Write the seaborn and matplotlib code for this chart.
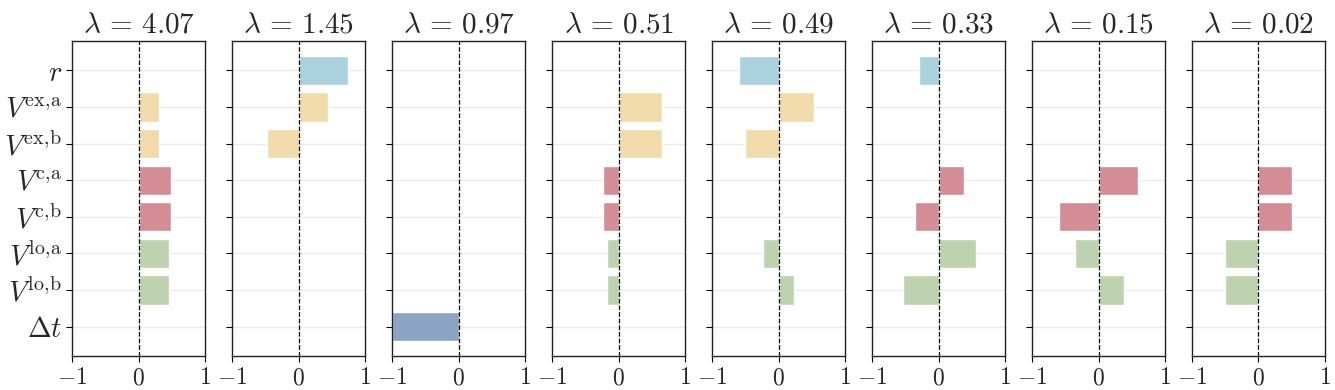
import numpy as np
import pandas as pd
import seaborn as sns
import matplotlib.pyplot as plt

# Data
lambdas = ['4.07', '1.45', '0.97', '0.51', '0.49', '0.33', '0.15', '0.02']
labels = [r'$r$', r'$V^{\mathrm{ex,\!a}}$', r'$V^{\mathrm{ex,\!b}}$', r'$V^{\mathrm{c,\!a}}$',
          r'$V^{\mathrm{c,\!b}}$', r'$V^{\mathrm{lo,\!a}}$', r'$V^{\mathrm{lo,\!b}}$', r'$\Delta t$']
# one list per eigenvector, same order as labels
vec_0 = [0.0, 0.30, 0.30, 0.48, 0.48, 0.45, 0.45, 0.0]
vec_1 = [0.74, 0.45, -0.47, 0.0, 0.0, 0.0, 0.0, 0.0]
vec_2 = [0.0, 0.0, 0.0, 0.0, 0.0, 0.0, 0.0, -1.0]
vec_3 = [0.0, 0.65, 0.65, -0.24, -0.24, -0.17, -0.17, 0.0]
vec_4 = [-0.59, 0.53, -0.51, 0.0, 0.0, -0.23, 0.24, 0.0]
vec_5 = [-0.30, 0.0, 0.0, 0.38, -0.36, 0.56, -0.54, 0.0]
vec_6 = [0.0, 0.0, 0.0, 0.60, -0.59, -0.36, 0.38, 0.0]
vec_7 = [0.0, 0.0, 0.0, 0.50, 0.50, -0.50, -0.50, 0.0]
vectors = [vec_0, vec_1, vec_2, vec_3, vec_4, vec_5, vec_6, vec_7]
xtick_vals = [-1, 0, 1]
xtick_labels = [r'$-1$', r'$0$', r'$1$']

colors = ['#a9d1de', '#f2dbab', '#f2dbab', '#d48c95', '#d48c95', '#bdd3b0', '#bdd3b0', '#8ca4c4']
palette = dict(zip(labels, colors))

sns.set_style('white')
plt.rcParams['mathtext.fontset'] = 'cm'
plt.rcParams['font.family'] = ['DejaVu Serif']

fig, axes = plt.subplots(1, 8, figsize=(13.35, 3.9), dpi=100, sharey=True)
fig.subplots_adjust(left=0.054, right=0.9925, top=0.895, bottom=0.087, wspace=0.203)

for i, ax in enumerate(axes):
    df = pd.DataFrame({'label': labels, 'value': vectors[i]})
    sns.barplot(data=df, x='value', y='label', hue='label', palette=palette,
                order=labels, hue_order=labels, legend=False, ax=ax,
                orient='h', width=0.8, saturation=1)
    ax.axvline(0, color='black', linestyle='--', linewidth=0.9, zorder=3)
    ax.set_xlim(-1, 1)
    ax.set_ylim(7.8, -0.8)
    ax.set_xticks(xtick_vals)
    ax.set_xticklabels(xtick_labels, fontsize=17)
    ax.set_xlabel('')
    ax.set_ylabel('')
    ax.set_axisbelow(True)
    ax.yaxis.grid(True, color='#ebebeb', linewidth=1)
    ax.tick_params(axis='both', direction='out', length=4, width=0.8, color='black',
                   left=True, bottom=True)
    ax.tick_params(axis='y', labelsize=20.5, pad=3)
    for sp in ax.spines.values():
        sp.set_color('#222222')
        sp.set_linewidth(1.0)
    ax.set_title(r'$\lambda\,=\,' + lambdas[i] + '$', fontsize=21, pad=6)

plt.savefig('out.png', dpi=100)
